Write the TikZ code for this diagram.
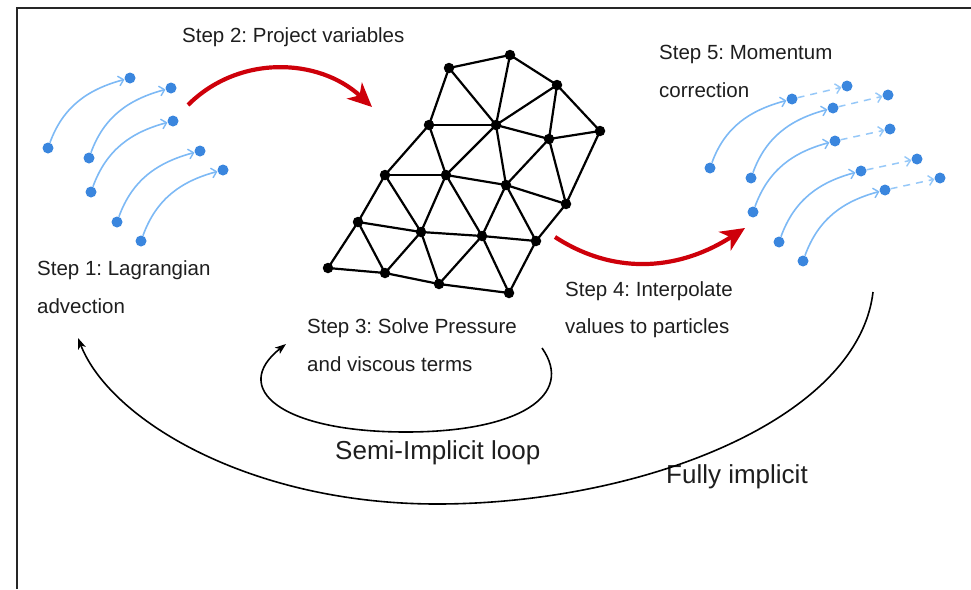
\documentclass[tikz,border=0pt]{standalone}
\usepackage{fontspec}
\setmainfont{Liberation Sans}
\usetikzlibrary{arrows.meta}
\definecolor{pblue}{RGB}{58,134,222}
\definecolor{lblue}{RGB}{125,185,245}
\definecolor{dblue}{RGB}{150,200,248}
\definecolor{sred}{RGB}{206,0,10}
\definecolor{txt}{RGB}{30,30,30}
\frenchspacing
\begin{document}
\begin{tikzpicture}[x=1pt,y=1pt,
  mdot/.style={circle,fill=black,inner sep=0pt,minimum size=10.5pt},
  pdot/.style={circle,fill=pblue,inner sep=0pt,minimum size=11pt},
  mesh/.style={line width=2.2pt,black},
  parrow/.style={draw=lblue,line width=1.6pt,-{Straight Barb[length=5pt,width=10pt,line width=1.4pt]}},
  pdash/.style={parrow,draw=dblue,line width=1.5pt,dash pattern=on 7pt off 6pt},
  redarrow/.style={draw=sred,line width=4.2pt,-{Stealth[length=24pt,width=22pt,inset=7pt]}},
  loop/.style={draw=black,line width=1.6pt,-{Stealth[length=11pt,width=8pt,inset=3pt]}},
  steptext/.style={anchor=base west,inner sep=0pt,text=txt,font=\fontsize{20.5}{24}\selectfont},
  looptext/.style={anchor=base west,inner sep=0pt,text=txt,font=\fontsize{26}{30}\selectfont}]
\useasboundingbox (0,0) rectangle (971,-589);
% frame
\coordinate (fb) at (16.5,-589);
\coordinate (fc) at (16.5,-7.5);
\coordinate (fr) at (971,-7.5);
\draw[line width=2pt,black!85] (fb) -- (fc) -- (fr);
% mesh nodes
\node[mdot] (A) at (449,-68) {};
\node[mdot] (B) at (510,-55) {};
\node[mdot] (C) at (557,-85) {};
\node[mdot] (D) at (600,-131) {};
\node[mdot] (E) at (429,-125) {};
\node[mdot] (F) at (496,-125) {};
\node[mdot] (G) at (549,-139) {};
\node[mdot] (H) at (385,-175) {};
\node[mdot] (I) at (446,-175) {};
\node[mdot] (J) at (506,-185) {};
\node[mdot] (K) at (566,-204) {};
\node[mdot] (L) at (358,-222) {};
\node[mdot] (M) at (421,-232) {};
\node[mdot] (N) at (482,-236) {};
\node[mdot] (O) at (536,-241) {};
\node[mdot] (P) at (328,-268) {};
\node[mdot] (Q) at (385,-273) {};
\node[mdot] (R) at (439,-284) {};
\node[mdot] (S) at (509,-293) {};
\foreach \u/\v in {A/B,B/C,C/D,A/E,A/F,B/F,C/F,C/G,D/G,D/K,E/F,E/H,E/I,F/G,F/I,F/J,G/J,G/K,H/I,H/L,H/M,I/J,I/M,I/N,J/K,J/N,J/O,K/O,L/M,L/P,L/Q,M/N,M/Q,M/R,N/O,N/R,N/S,O/S,P/Q,Q/R,R/S}
  \draw[mesh] (\u.center) -- (\v.center);
% left particles
\node[pdot] (a1) at (48,-148) {};  \node[pdot] (b1) at (130,-78) {};
\node[pdot] (a2) at (89,-158) {};  \node[pdot] (b2) at (171,-88) {};
\node[pdot] (a3) at (91,-192) {};  \node[pdot] (b3) at (173,-121) {};
\node[pdot] (a4) at (117,-222) {}; \node[pdot] (b4) at (200,-151) {};
\node[pdot] (a5) at (141,-241) {}; \node[pdot] (b5) at (223,-170) {};
\foreach \i in {1,...,5}
  \draw[parrow] (a\i) to[out=70,in=195] (b\i);
% right particles
\node[pdot] (s1) at (710,-168) {}; \node[pdot] (m1) at (792,-99) {};  \node[pdot] (e1) at (847,-86) {};
\node[pdot] (s2) at (751,-178) {}; \node[pdot] (m2) at (833,-108) {}; \node[pdot] (e2) at (888,-95) {};
\node[pdot] (s3) at (753,-212) {}; \node[pdot] (m3) at (835,-141) {}; \node[pdot] (e3) at (890,-129) {};
\node[pdot] (s4) at (779,-242) {}; \node[pdot] (m4) at (861,-171) {}; \node[pdot] (e4) at (917,-159) {};
\node[pdot] (s5) at (803,-261) {}; \node[pdot] (m5) at (885,-190) {}; \node[pdot] (e5) at (940,-178) {};
\foreach \i in {1,...,5}{
  \draw[parrow] (s\i) to[out=70,in=195] (m\i);
  \draw[pdash] (m\i) -- (e\i);
}
% red arrows
\coordinate (r2s) at (188,-105);
\coordinate (r2e) at (372,-107);
\draw[redarrow] (r2s) to[out=45,in=137] (r2e);
\coordinate (r4s) at (555,-237);
\coordinate (r4e) at (745,-228);
\draw[redarrow] (r4s) to[out=-33,in=213] (r4e);
% texts
\node[steptext] (t2) at (182,-42) {Step 2: Project variables};
\node[steptext] (t5a) at (659,-59) {Step 5: Momentum};
\node[steptext] (t5b) at (659,-97) {correction};
\node[steptext] (t1a) at (37,-275) {Step 1: Lagrangian};
\node[steptext] (t1b) at (37,-313) {advection};
\node[steptext] (t3a) at (307,-333) {Step 3: Solve Pressure};
\node[steptext] (t3b) at (307,-371) {and viscous terms};
\node[steptext] (t4a) at (565,-296) {Step 4: Interpolate};
\node[steptext] (t4b) at (565,-333) {values to particles};
\node[looptext] (semi) at (335,-459) {Semi-Implicit loop};
\node[looptext] (fully) at (666,-483) {Fully implicit};
% loops
\coordinate (ils) at (542,-348);
\coordinate (ilb) at (406,-432);
\coordinate (ile) at (286,-344);
\draw[loop] (ils) .. controls (575,-395) and (520,-432) .. (ilb)
                  .. controls (280,-432) and (230,-388) .. (ile);
\coordinate (ols) at (873,-292);
\coordinate (olb) at (437,-504);
\coordinate (ole) at (78,-338);
\draw[loop] (ols) .. controls (858,-420) and (640,-504) .. (olb)
                  .. controls (250,-504) and (110,-420) .. (ole);
\end{tikzpicture}
\end{document}
